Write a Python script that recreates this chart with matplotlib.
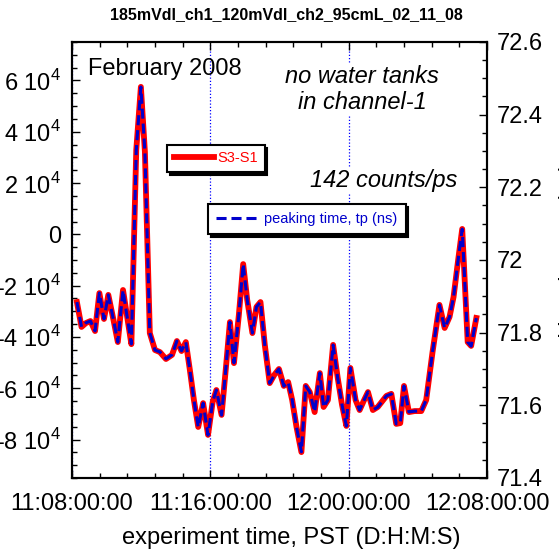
import matplotlib
matplotlib.use('Agg')
import matplotlib.pyplot as plt
from matplotlib.ticker import MultipleLocator, FixedLocator, FuncFormatter

plt.rcParams['font.family'] = 'Liberation Sans'
plt.rcParams['mathtext.fontset'] = 'custom'
plt.rcParams['mathtext.rm'] = 'Liberation Sans'

# sample times, minutes after 08:00 on Feb 11
minutes = [17, 33, 48, 64, 80, 95, 111, 126, 144, 159,
           177, 192, 206, 223, 239, 253, 270, 288, 305, 326,
           347, 364, 380, 395, 409, 423, 438, 455, 472, 488,
           501, 519, 534, 548, 562, 579, 594, 608, 626, 640,
           654, 669, 686, 702, 718, 735, 750, 764, 779, 796,
           811, 825, 842, 860, 873, 888, 906, 922, 937, 952,
           966, 984, 998, 1012, 1027, 1044, 1061, 1091, 1108, 1125,
           1139, 1152, 1169, 1189, 1200, 1212, 1229, 1251, 1275, 1293,
           1310, 1324, 1339, 1354, 1373, 1385, 1403]

s3_s1 = [-26400, -36100, -34600, -33800, -37700, -22900, -33000, -23600, -33400, -42000,
         -21700, -32600, -42800, 32900, 57500, 32100, -38500, -45100, -45900, -48600,
         -47000, -41600, -45500, -42000, -52900, -64600, -75100, -65800, -78200, -65400,
         -60700, -70400, -52100, -34200, -50200, -31400, -11600, -25600, -38500, -28300,
         -26400, -43100, -58000, -54800, -52500, -59100, -57600, -64600, -75100, -84900,
         -59100, -61500, -69300, -54100, -67300, -64600, -43100, -56000, -66500, -74700,
         -52100, -64600, -68500, -65000, -61500, -68500, -67300, -63000, -62200, -73900,
         -73600, -59100, -69300, -68900, -68900, -68900, -64600, -45900, -27500, -36500,
         -32200, -24400, -10800, 2100, -42000, -43500, -32600]

tp_ns = [71.884, 71.816, 71.827, 71.832, 71.805, 71.909, 71.838, 71.904, 71.835, 71.774,
         71.917, 71.840, 71.769, 72.303, 72.476, 72.297, 71.799, 71.752, 71.747, 71.728,
         71.739, 71.777, 71.750, 71.774, 71.697, 71.615, 71.540, 71.606, 71.518, 71.609,
         71.642, 71.573, 71.703, 71.829, 71.717, 71.849, 71.989, 71.890, 71.799, 71.871,
         71.884, 71.766, 71.661, 71.683, 71.700, 71.653, 71.664, 71.615, 71.540, 71.472,
         71.653, 71.637, 71.582, 71.689, 71.595, 71.615, 71.766, 71.675, 71.601, 71.543,
         71.703, 71.615, 71.587, 71.612, 71.637, 71.587, 71.595, 71.626, 71.631, 71.549,
         71.551, 71.653, 71.582, 71.584, 71.584, 71.584, 71.615, 71.747, 71.876, 71.813,
         71.843, 71.898, 71.995, 72.085, 71.774, 71.763, 71.840]

xtick_pos = [0, 480, 960, 1440]
xtick_labels = ['11:08:00:00', '11:16:00:00', '12:00:00:00', '12:08:00:00']

fig = plt.figure(figsize=(5.59, 5.55), dpi=100)
ax = fig.add_axes([72/559, 77/555, 415/559, 436/555])
ax2 = ax.twinx()

for t in xtick_pos:
    ax.axvline(t, color='#0000ff', lw=0.9, ls=(0, (1, 1.6)), zorder=1)

ax.plot(minutes, s3_s1, color='red', lw=4.2, solid_joinstyle='round',
        label='S3-S1', zorder=3)
ax2.plot(minutes, tp_ns, color='#0000cc', lw=2.2, dashes=(3.3, 1.6),
         label='peaking time, tp (ns)', zorder=3)

ax.set_xlim(0, 1440)
ax.set_ylim(-95000, 75000)
ax2.set_ylim(71.4, 72.6)

ax.xaxis.set_major_locator(FixedLocator(xtick_pos))
ax.set_xticklabels(xtick_labels)
ax.xaxis.set_minor_locator(MultipleLocator(96))
ax.yaxis.set_major_locator(MultipleLocator(20000))
ax.yaxis.set_minor_locator(MultipleLocator(5000))
ax.yaxis.set_major_formatter(FuncFormatter(
    lambda v, p: '0' if abs(v) < 1 else '%d 10$^4$' % round(v / 1e4)))
ax2.yaxis.set_major_locator(MultipleLocator(0.2))
ax2.yaxis.set_minor_locator(MultipleLocator(0.05))
ax2.yaxis.set_major_formatter(FuncFormatter(lambda v, p: '%g' % round(v, 1)))

ax.tick_params(which='both', direction='in', top=True, right=False, width=1)
ax.tick_params(which='major', length=6, labelsize=17)
ax.tick_params(which='minor', length=3.5)
ax.tick_params(axis='x', pad=11)
ax.tick_params(axis='y', pad=8)
ax2.tick_params(which='both', direction='in', width=1)
ax2.tick_params(which='major', length=6, labelsize=17, pad=7)
ax2.tick_params(which='minor', length=3.5)
for a in (ax, ax2):
    for sp in a.spines.values():
        sp.set_linewidth(1.5)

ax.set_xlabel('experiment time, PST (D:H:M:S)', fontsize=17)
ax.xaxis.set_label_coords(0.528, -0.112)

leg1 = ax.legend(loc='upper left', bbox_to_anchor=(0.229, 0.764), borderaxespad=0,
                 fontsize=10.5, fancybox=False, edgecolor='black', framealpha=1,
                 shadow={'color': 'black', 'alpha': 1}, handlelength=2.8,
                 handletextpad=0.2, borderpad=0.45, labelcolor='red')
leg1.get_frame().set_linewidth(1.5)
leg2 = ax2.legend(loc='upper left', bbox_to_anchor=(0.328, 0.628), borderaxespad=0,
                  fontsize=10.5, fancybox=False, edgecolor='black', framealpha=1,
                  shadow={'color': 'black', 'alpha': 1}, handlelength=3.0,
                  handletextpad=0.3, borderpad=0.55, labelcolor='#0000cc')
leg2.get_frame().set_linewidth(1.5)

box = dict(facecolor='white', edgecolor='none', pad=1)
ax2.text(0.0386, 0.924, 'February 2008', transform=ax.transAxes, fontsize=17,
         va='baseline', ha='left')
ax2.text(0.699, 0.906, 'no water tanks', transform=ax.transAxes, fontsize=17,
         style='italic', ha='center', va='baseline', bbox=box)
ax2.text(0.699, 0.846, 'in channel-1', transform=ax.transAxes, fontsize=17,
         style='italic', ha='center', va='baseline', bbox=box)
ax2.text(0.750, 0.667, '142 counts/ps', transform=ax.transAxes, fontsize=17,
         style='italic', ha='center', va='baseline', bbox=box)

fig.text(286/559, 1 - 15/555, '185mVdl_ch1_120mVdl_ch2_95cmL_02_11_08',
         ha='center', va='center', fontsize=11.5, weight='bold')
# right axis label sits at the very edge of the canvas
fig.text(559/559, 1 - 270/555, 'peaking time, tp (ns)', rotation=90,
         ha='left', va='center', fontsize=17)

fig.savefig('out.png', dpi=100)
